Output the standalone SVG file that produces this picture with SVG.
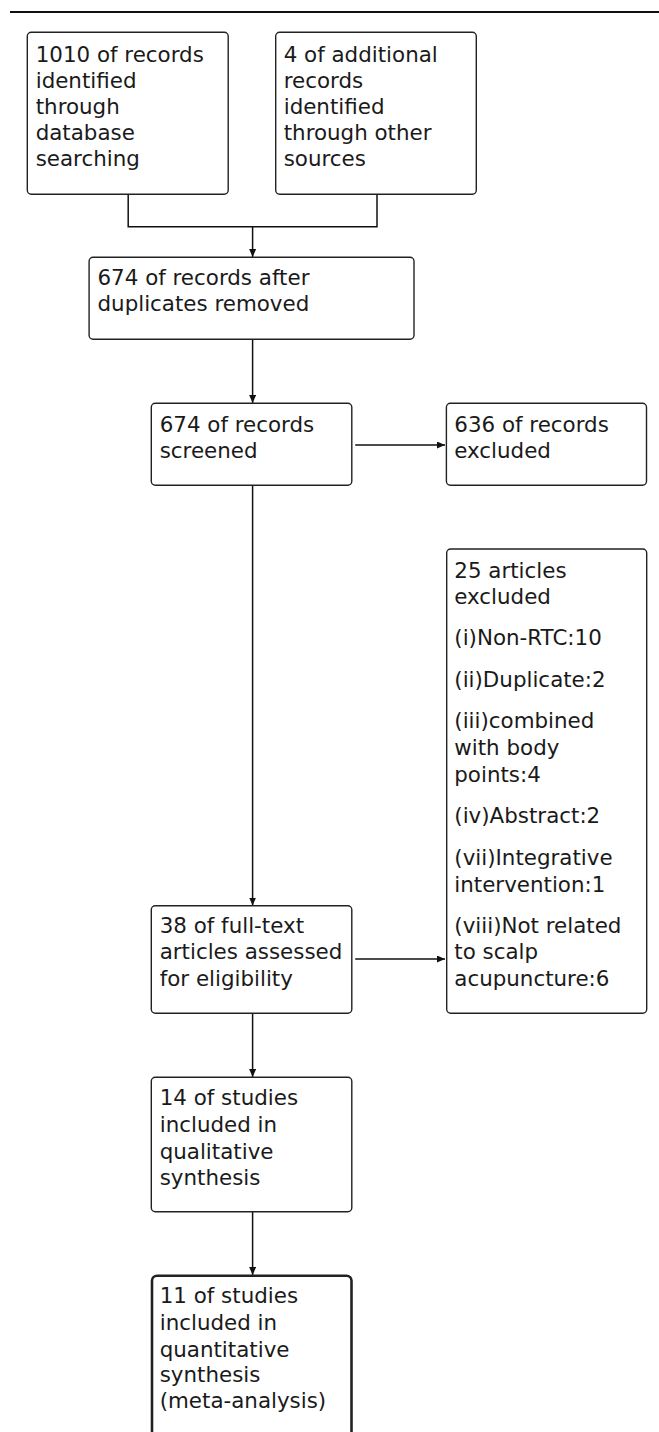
<svg xmlns="http://www.w3.org/2000/svg" width="659" height="1432" viewBox="0 0 659 1432">
<style>
.box{fill:#fff;stroke:#222;stroke-width:1.4}
.bold{stroke-width:2.6}
.t{font-family:"DejaVu Sans",sans-serif;font-size:21.4px;fill:#1a1a1a}
.c{fill:none;stroke:#111;stroke-width:1.5}
</style>
<defs>
<marker id="ah" markerUnits="userSpaceOnUse" markerWidth="9" markerHeight="8" refX="8" refY="3.5" orient="auto">
<path d="M0,0 L8,3.5 L0,7 z" fill="#111"/>
</marker>
</defs>
<rect x="10" y="11" width="649" height="2" fill="#111"/>
<g id="connectors">
<path class="c" d="M128.2,194.3 V226.7 H377 V194.3"/>
<path class="c" d="M252.6,226.7 V257" marker-end="url(#ah)"/>
<path class="c" d="M252.6,339.3 V403" marker-end="url(#ah)"/>
<path class="c" d="M355.2,445 H445" marker-end="url(#ah)"/>
<path class="c" d="M252.6,485.3 V905.5" marker-end="url(#ah)"/>
<path class="c" d="M355.2,959 H445" marker-end="url(#ah)"/>
<path class="c" d="M252.6,1013.3 V1077" marker-end="url(#ah)"/>
<path class="c" d="M252.6,1211.7 V1275" marker-end="url(#ah)"/>
</g>
<g id="n1">
<rect class="box" x="27.3" y="32.3" width="200.9" height="162" rx="4"/>
<text class="t" x="35.7" y="62.3">1010 of records<tspan x="35.7" dy="25.9">identified</tspan><tspan x="35.7" dy="25.9">through</tspan><tspan x="35.7" dy="25.9">database</tspan><tspan x="35.7" dy="25.9">searching</tspan></text>
</g>
<g id="n2">
<rect class="box" x="275.7" y="32.3" width="200.6" height="162" rx="4"/>
<text class="t" x="283.7" y="62.3">4 of additional<tspan x="283.7" dy="25.9">records</tspan><tspan x="283.7" dy="25.9">identified</tspan><tspan x="283.7" dy="25.9">through other</tspan><tspan x="283.7" dy="25.9">sources</tspan></text>
</g>
<g id="n3">
<rect class="box" x="89.1" y="257.3" width="324.9" height="82" rx="4"/>
<text class="t" x="97.5" y="285">674 of records after<tspan x="97.5" dy="26.2">duplicates removed</tspan></text>
</g>
<g id="n4">
<rect class="box" x="151.3" y="403.3" width="200.5" height="82" rx="4"/>
<text class="t" x="159.7" y="431.7">674 of records<tspan x="159.7" dy="25.8">screened</tspan></text>
</g>
<g id="n5">
<rect class="box" x="446.4" y="403.3" width="200.1" height="82" rx="4"/>
<text class="t" x="454.3" y="431.7">636 of records<tspan x="454.3" dy="25.8">excluded</tspan></text>
</g>
<g id="n6">
<rect class="box" x="446.7" y="549" width="200" height="464.3" rx="4"/>
<text class="t" x="454.3" y="577.7">25 articles<tspan x="454.3" y="603.5">excluded</tspan><tspan x="454.3" y="645">(i)Non-RTC:10</tspan><tspan x="454.3" y="686.7">(ii)Duplicate:2</tspan><tspan x="454.3" y="728.3">(iii)combined</tspan><tspan x="454.3" y="755">with body</tspan><tspan x="454.3" y="781.7">points:4</tspan><tspan x="454.3" y="823.3">(iv)Abstract:2</tspan><tspan x="454.3" y="865">(vii)Integrative</tspan><tspan x="454.3" y="891.7">intervention:1</tspan><tspan x="454.3" y="932.7">(viii)Not related</tspan><tspan x="454.3" y="959">to scalp</tspan><tspan x="454.3" y="985.7">acupuncture:6</tspan></text>
</g>
<g id="n7">
<rect class="box" x="151.3" y="905.7" width="200.5" height="107.6" rx="4"/>
<text class="t" x="159.7" y="932.7">38 of full-text<tspan x="159.7" y="959">articles assessed</tspan><tspan x="159.7" y="985.7">for eligibility</tspan></text>
</g>
<g id="n8">
<rect class="box" x="151.3" y="1077.3" width="200.5" height="134.4" rx="4"/>
<text class="t" x="159.7" y="1105">14 of studies<tspan x="159.7" y="1131.7">included in</tspan><tspan x="159.7" y="1158.5">qualitative</tspan><tspan x="159.7" y="1185">synthesis</tspan></text>
</g>
<g id="n9">
<rect class="box bold" x="152" y="1275.7" width="199.5" height="170" rx="5"/>
<text class="t" x="159.7" y="1303.3">11 of studies<tspan x="159.7" y="1330">included in</tspan><tspan x="159.7" y="1356.7">quantitative</tspan><tspan x="159.7" y="1382.3">synthesis</tspan><tspan x="159.7" y="1408.3">(meta-analysis)</tspan></text>
</g>
</svg>
